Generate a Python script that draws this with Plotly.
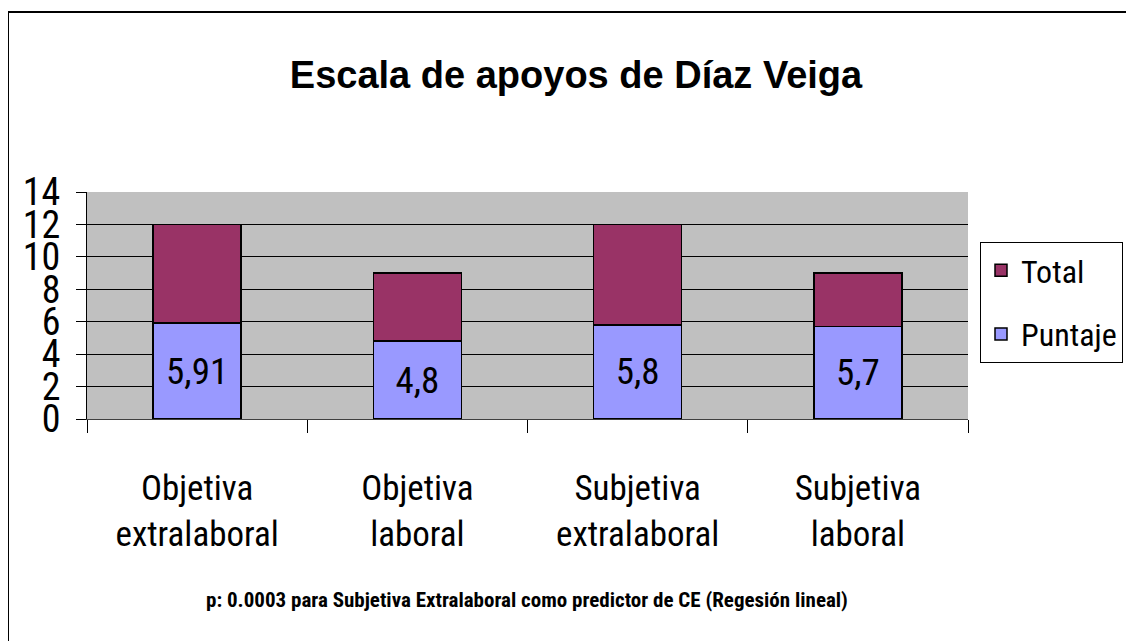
import plotly.graph_objects as go

categories = ["Objetiva<br>extralaboral", "Objetiva<br>laboral", "Subjetiva<br>extralaboral", "Subjetiva<br>laboral"]
puntaje = [5.91, 4.8, 5.8, 5.7]
total = [12, 9, 12, 9]
resto = [t - p for t, p in zip(total, puntaje)]
labels = [str(v).replace(".", ",") for v in puntaje]

NARROW = "Liberation Sans Narrow, Arial Narrow, Roboto Condensed, DejaVu Sans Condensed, sans-serif"

OFF = 8  # page offset of the figure div (body margin)
W, H = 1134 - OFF, 641 - OFF
L, R, T, B = 87 - OFF, 968 - OFF, 192 - OFF, 419 - OFF

fig = go.Figure()
fig.add_trace(go.Bar(
    x=categories, y=puntaje, name="Puntaje", legendrank=2, legendgroup="p",
    marker=dict(color="#9999FF", line=dict(color="black", width=1.5)),
    text=labels, textposition="inside", insidetextanchor="middle",
    textfont=dict(family=NARROW, size=37, color="black"),
    width=0.4,
))
fig.add_trace(go.Bar(
    x=categories, y=resto, name="Total", legendrank=1, legendgroup="t",
    marker=dict(color="#993366", line=dict(color="black", width=1.5)),
    hoverinfo="skip", width=0.4,
))

def px(x):
    return (x - OFF - L) / (R - L)

def py(y):
    return (B - (y - OFF)) / (B - T)

fig.update_layout(
    width=W, height=H,
    margin=dict(l=L, r=W - R, t=T, b=H - B, pad=0, autoexpand=False),
    barmode="stack",
    paper_bgcolor="white",
    plot_bgcolor="#C0C0C0",
    title=dict(text="<b>Escala de apoyos de Díaz Veiga</b>", x=(576 - OFF) / W, xanchor="center",
               y=1 - (75 - OFF) / H, yanchor="middle",
               font=dict(family="Liberation Sans, Arial, sans-serif", size=38, color="black")),
    legend=dict(
        x=px(980), y=py(242), xanchor="left", yanchor="top",
        bordercolor="black", borderwidth=1, bgcolor="white",
        font=dict(family=NARROW, size=32, color="black"),
        traceorder="grouped", tracegroupgap=19, itemwidth=30,
    ),
    xaxis=dict(
        tickson="boundaries", ticks="outside", ticklen=13, tickcolor="black",
        showline=True, linecolor="#404040", linewidth=1,
        tickfont=dict(family=NARROW, size=35, color="black"),
        ticklabelstandoff=38,
        showgrid=False,
    ),
    yaxis=dict(
        range=[0, 14], tickmode="linear", tick0=0, dtick=2,
        ticks="outside", ticklen=10, tickcolor="black",
        showline=True, linecolor="black", linewidth=1,
        showgrid=True, gridcolor="black", gridwidth=1,
        tickfont=dict(family=NARROW, size=38, color="black"),
        ticklabelstandoff=8,
        zeroline=False,
    ),
    showlegend=True,
    bargap=0.6,
)

fig.add_annotation(
    text="<b>p: 0.0003 para Subjetiva Extralaboral como predictor de CE (Regesión lineal)</b>",
    xref="paper", yref="paper", x=px(527), y=py(600), xanchor="center", yanchor="middle",
    showarrow=False, font=dict(family=NARROW, size=21, color="black"),
)

# outer chart border (left and top edges visible)
fig.add_shape(type="line", xref="paper", yref="paper", x0=px(8), x1=px(8), y0=py(12), y1=py(660),
              line=dict(color="black", width=2))
fig.add_shape(type="line", xref="paper", yref="paper", x0=px(8), x1=px(1150), y0=py(12), y1=py(12),
              line=dict(color="black", width=2))

fig.write_html("out.html")
